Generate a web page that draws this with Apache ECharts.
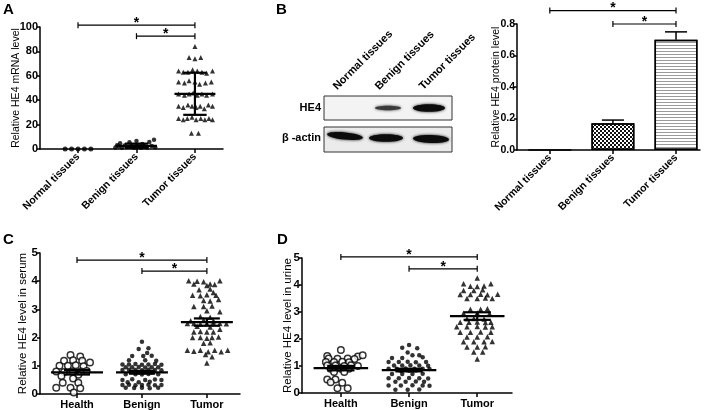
<!DOCTYPE html>
<html><head><meta charset="utf-8">
<script src="https://cdn.jsdelivr.net/npm/echarts@6/dist/echarts.min.js"></script>
<style>html,body{margin:0;padding:0;background:#fff}#c{width:708px;height:410px}</style>
</head><body><div id="c"></div>
<script>
// ---------- DATA ----------
const tissueCats = ['Normal tissues', 'Benign tissues', 'Tumor tissues'];
const groupCats = ['Health', 'Benign', 'Tumor'];

// Panel A: relative HE4 mRNA level, points as [jitter, value]
const aNormalPts = [[-0.22,0],[-0.11,0],[0,0],[0.11,0],[0.22,0]];
const aBenignPts = [[-0.36,1.2],[-0.3,2.2],[-0.25,1],[-0.2,2.8],[-0.16,1.6],[-0.12,5.5],[-0.08,2.4],[-0.04,1],[0,6.5],[0.02,3],[0.06,1.8],[0.1,4.2],[0.14,2.2],[0.18,1.2],[0.22,5.8],[0.26,2.5],[0.3,7.5],[0.32,1.5],[-0.28,4.8],[-0.02,2],[0.08,1],[-0.33,3]];
const aTumorPts = [
  [0,84],
  [-0.1,75],[0,74],[0.1,75],
  [-0.28,64],[-0.2,63],[-0.12,63],[-0.04,65],[0.04,64],[0.12,63],[0.2,62],[0.3,64],
  [-0.28,55],[-0.18,54],[-0.1,56],[0,55],[0.08,53],[0.18,54],[0.28,55],
  [-0.28,45],[-0.18,44],[-0.1,45],[-0.03,46],[0.04,44],[0.12,45],[0.2,44],[0.3,45],
  [-0.28,35],[-0.2,34],[-0.12,36],[-0.05,35],[0.02,34],[0.09,35],[0.16,33],[0.23,36],[0.3,35],
  [-0.28,25],[-0.2,24],[-0.13,25],[-0.05,26],[0.02,24],[0.1,25],[0.17,24],[0.24,25],[0.3,24],
  [-0.06,13],[0.06,13]
];
const aMean = [0, 2.6, 45.2];
const aLow  = [0, 1.0, 28.0];
const aHigh = [0, 4.4, 62.5];
const aBrackets = [[0, 2, 101.5], [1, 2, 92.5]];

// Panel B: relative HE4 protein level
const bMean = [0, 0.17, 0.70];
const bErr  = [0, 0.02, 0.05];
const bBrackets = [[0, 2, 0.885], [1, 2, 0.80]];

// Panel C: serum
const cHealthPts = [[-0.1,1.38],[0.05,1.33],[-0.2,1.18],[-0.06,1.2],[0.08,1.18],[0.2,1.12],[-0.27,1.0],[-0.14,1.0],[-0.02,1.02],[0.1,0.98],[-0.32,0.8],[-0.2,0.78],[-0.07,0.8],[0.06,0.8],[0.15,0.82],[-0.24,0.64],[0.02,0.68],[-0.06,0.55],[-0.22,0.4],[0.02,0.4],[-0.32,0.22],[-0.1,0.22],[0.05,0.2],[-0.05,0.05]];
const cBenignPts = [
  [0,1.85],[-0.05,1.6],[0.1,1.62],[0.08,1.45],
  [-0.15,1.35],[0.02,1.35],[0.15,1.36],[-0.2,1.2],[0.05,1.2],[0.22,1.18],
  [-0.3,1.05],[-0.2,1.05],[-0.1,1.06],[0,1.04],[0.1,1.05],[0.2,1.06],[0.3,1.04],
  [-0.25,0.95],[-0.15,0.95],[-0.05,0.96],[0.05,0.94],[0.15,0.95],[0.25,0.95],
  [-0.3,0.85],[-0.2,0.86],[-0.1,0.85],[0,0.84],[0.1,0.86],[0.2,0.85],[0.3,0.84],
  [-0.15,0.78],[-0.05,0.77],[0.05,0.78],[0.15,0.77],
  [-0.25,0.7],[-0.1,0.7],[0,0.69],[0.1,0.71],[0.25,0.7],
  [-0.3,0.5],[-0.15,0.52],[0.05,0.5],[0.2,0.51],[0.3,0.5],
  [-0.22,0.42],[-0.05,0.42],[0.12,0.43],
  [-0.3,0.32],[-0.2,0.33],[-0.1,0.31],[0,0.32],[0.1,0.33],[0.2,0.31],[0.3,0.32],
  [-0.25,0.22],[-0.12,0.21],[0,0.22],[0.12,0.2],[0.25,0.22]
];
const cTumorPts = [
  [-0.28,4.02],[-0.15,4.0],[-0.05,3.98],[0.2,4.02],[0.05,3.9],
  [-0.2,3.9],[0.0,3.85],[0.12,3.88],
  [-0.12,3.7],[0.05,3.72],[0.1,3.6],
  [-0.22,3.5],[-0.1,3.48],[0,3.52],[0.14,3.5],
  [-0.05,3.32],[0.05,3.3],[0.18,3.35],
  [-0.2,3.1],[-0.05,3.1],[0.08,3.12],
  [0,2.95],[0.2,2.92],
  [-0.1,2.75],[0.05,2.72],
  [-0.25,2.6],[-0.05,2.62],[0.1,2.6],
  [-0.3,2.5],[-0.2,2.5],[-0.1,2.48],[0,2.5],[0.1,2.52],[0.2,2.5],[0.3,2.49],
  [-0.15,2.4],[0.05,2.38],
  [-0.2,2.2],[-0.1,2.22],[0,2.2],[0.1,2.2],[0.2,2.3],
  [-0.22,2.0],[-0.1,2.0],[0,1.98],[0.08,2.0],[0.18,2.02],
  [-0.05,1.8],[0.05,1.82],
  [-0.3,1.55],[-0.2,1.52],[-0.1,1.55],[0.02,1.5],[0.12,1.55],[0.22,1.5],[0.32,1.55],
  [-0.02,1.4],[0.08,1.32],[0,1.1]
];
const cMean = [0.77, 0.77, 2.55];
const cSem  = [0.08, 0.05, 0.13];
const cBrackets = [[0, 2, 4.75], [1, 2, 4.36]];

// Panel D: urine
const dHealthPts = [[0,1.59],[-0.2,1.37],[0.25,1.35],[0.32,1.4],[-0.18,1.28],[-0.05,1.27],[0.1,1.28],[0.2,1.26],[-0.22,1.15],[-0.1,1.15],[0.02,1.16],[0.12,1.14],[-0.2,1.02],[-0.08,1.02],[0.05,1.0],[0.15,1.03],[0.25,1.0],[-0.15,0.9],[0,0.9],[0.12,0.9],[-0.1,0.78],[0.05,0.78],[-0.2,0.5],[-0.08,0.5],[-0.15,0.4],[0.02,0.38],[-0.05,0.18],[0.1,0.18]];
const dBenignPts = [
  [0,1.78],[-0.1,1.68],[0.12,1.66],[-0.02,1.5],[0.05,1.4],[0.15,1.4],
  [-0.25,1.3],[-0.1,1.3],[0.2,1.32],
  [-0.3,1.15],[-0.15,1.15],[-0.02,1.16],[0.1,1.14],[0.25,1.15],
  [-0.22,1.02],[-0.1,1.02],[0.02,1.03],[0.15,1.02],[0.28,1.01],
  [-0.3,0.9],[-0.18,0.9],[-0.05,0.91],[0.08,0.9],[0.2,0.9],[0.3,0.89],
  [-0.12,0.82],[0,0.82],[0.1,0.83],
  [-0.25,0.7],[-0.1,0.7],[0.05,0.7],[0.2,0.71],
  [-0.3,0.55],[-0.15,0.55],[0,0.56],[0.15,0.55],[0.28,0.54],
  [-0.2,0.42],[-0.05,0.42],[0.1,0.43],[0.22,0.42],
  [-0.3,0.28],[-0.12,0.28],[0.05,0.29],[0.2,0.28],[0.3,0.27],
  [-0.2,0.12],[-0.02,0.12],[0.15,0.13]
];
const dTumorPts = [
  [0,4.26],[-0.2,4.05],[0.2,4.05],[-0.1,3.95],[0,3.94],[0.1,3.96],
  [-0.2,3.8],[-0.05,3.8],[0.08,3.82],
  [-0.25,3.65],[-0.1,3.65],[0.05,3.66],[0.15,3.64],[0.3,3.66],
  [-0.15,3.5],[0,3.5],[0.12,3.52],[0.22,3.5],
  [-0.1,3.1],[0.05,3.1],[0.15,3.12],
  [-0.2,2.95],[0,2.96],[0.18,2.94],
  [-0.15,2.75],[-0.05,2.76],[0.1,2.74],
  [-0.25,2.62],[-0.12,2.62],[0,2.63],[0.12,2.61],[0.2,2.62],
  [-0.3,2.45],[-0.15,2.45],[0,2.46],[0.12,2.44],[0.22,2.45],
  [-0.25,2.25],[-0.1,2.25],[0.05,2.26],[0.2,2.25],
  [-0.15,2.07],[0,2.07],[0.15,2.08],
  [-0.2,1.9],[-0.05,1.9],[0.1,1.9],[0.22,1.91],
  [-0.15,1.7],[0,1.7],[0.12,1.71],
  [-0.05,1.52],[0.08,1.52],[0,1.26]
];
const dMean = [0.92, 0.85, 2.85];
const dSem  = [0.08, 0.05, 0.14];
const dBrackets = [[0, 2, 5.04], [1, 2, 4.6]];

// ---------- CHART ----------
const FONT = '"Liberation Sans", Arial, sans-serif';
const chart = echarts.init(document.getElementById('c'));

function xAxisDef(gi, min, max, cats, label) {
  return {
    type: 'value', gridIndex: gi, min: min, max: max, splitLine: {show: false},
    axisLine: {show: true, onZero: false, lineStyle: {color: '#000', width: 1.5}},
    axisTick: {show: true, customValues: [0, 1, 2], length: 4, lineStyle: {color: '#000', width: 1.5}},
    axisLabel: Object.assign({customValues: [0, 1, 2], formatter: v => cats[Math.round(v)], color: '#000', fontFamily: FONT}, label)
  };
}
function yAxisDef(gi, max, interval, name, nameGap, nameSize, label) {
  return {
    type: 'value', gridIndex: gi, min: 0, max: max, interval: interval, splitLine: {show: false},
    name: name, nameLocation: 'middle', nameGap: nameGap, nameMoveOverlap: false,
    nameTextStyle: {color: '#000', fontFamily: FONT, fontSize: nameSize},
    axisLine: {show: true, onZero: false, lineStyle: {color: '#000', width: 1.5}},
    axisTick: {show: true, length: 3, lineStyle: {color: '#000', width: 1.5}},
    axisLabel: Object.assign({color: '#000', fontFamily: FONT, margin: 2}, label)
  };
}
function scatterSeries(idx, pts, cat, symbol, size, filled) {
  return {
    type: 'scatter', xAxisIndex: idx, yAxisIndex: idx, symbol: symbol, symbolSize: size, z: 3,
    data: pts.map(p => [cat + p[0], p[1]]),
    itemStyle: filled ? {color: '#000'} : {color: '#fff', borderColor: '#000', borderWidth: 1.5},
    silent: true
  };
}
function summarySeries(idx, items, hw, cw) {
  return {
    type: 'custom', xAxisIndex: idx, yAxisIndex: idx, z: 5, clip: false, silent: true,
    data: items,
    renderItem: function (params, api) {
      const c = api.value(0), m = api.value(1), lo = api.value(2), hi = api.value(3);
      const st = {stroke: '#000', lineWidth: 2.2};
      const P = (x, y) => api.coord([x, y]);
      const L = (a, b) => ({type: 'line', shape: {x1: a[0], y1: a[1], x2: b[0], y2: b[1]}, style: st});
      return {type: 'group', children: [
        L(P(c - hw, m), P(c + hw, m)),
        L(P(c, lo), P(c, hi)),
        L(P(c - cw, lo), P(c + cw, lo)),
        L(P(c - cw, hi), P(c + cw, hi))
      ]};
    }
  };
}
function bracketSeries(idx, items) {
  return {
    type: 'custom', xAxisIndex: idx, yAxisIndex: idx, z: 6, clip: false, silent: true,
    data: items,
    renderItem: function (params, api) {
      const a = api.coord([api.value(0), api.value(2)]);
      const b = api.coord([api.value(1), api.value(2)]);
      const st = {stroke: '#000', lineWidth: 1.2};
      return {type: 'group', children: [
        {type: 'line', shape: {x1: a[0], y1: a[1], x2: b[0], y2: b[1]}, style: st},
        {type: 'line', shape: {x1: a[0], y1: a[1] - 3, x2: a[0], y2: a[1] + 3}, style: st},
        {type: 'line', shape: {x1: b[0], y1: b[1] - 3, x2: b[0], y2: b[1] + 3}, style: st},
        {type: 'text', style: {text: '*', x: (a[0] + b[0]) / 2, y: a[1] - 2, textAlign: 'center', textVerticalAlign: 'middle', font: 'bold 14px ' + FONT, fill: '#000'}}
      ]};
    }
  };
}
function barErrSeries(idx, items, cw) {
  return {
    type: 'custom', xAxisIndex: idx, yAxisIndex: idx, z: 5, clip: false, silent: true,
    data: items,
    renderItem: function (params, api) {
      const c = api.value(0), m = api.value(1), hi = api.value(2);
      const st = {stroke: '#000', lineWidth: 1.5};
      const a = api.coord([c, m]), b = api.coord([c, hi]);
      const l = api.coord([c - cw, hi]), r = api.coord([c + cw, hi]);
      return {type: 'group', children: [
        {type: 'line', shape: {x1: a[0], y1: a[1], x2: b[0], y2: b[1]}, style: st},
        {type: 'line', shape: {x1: l[0], y1: l[1], x2: r[0], y2: r[1]}, style: st}
      ]};
    }
  };
}

const rotLabel = {rotate: 45, fontSize: 10.5, fontWeight: 'bold', margin: 6};
const tickLblA = {fontSize: 11, fontWeight: 'bold'};
const tickLblB = {fontSize: 10.5, fontWeight: 'bold'};
const tickLblBig = {fontSize: 11.5, fontWeight: 'bold'};
const catLblBig = {fontSize: 11, fontWeight: 'bold', margin: 5};

const barStyles = [
  {color: '#fff', borderColor: '#000', borderWidth: 1.5},
  {color: '#fff', borderColor: '#000', borderWidth: 1.5,
   decal: {symbol: 'rect', symbolSize: 1, color: '#111', dashArrayX: [[2, 2], [0, 2, 2, 0]], dashArrayY: [2, 0], rotation: 0}},
  {color: '#fff', borderColor: '#000', borderWidth: 1.5,
   decal: {symbol: 'rect', symbolSize: 1, color: '#9a9a9a', dashArrayX: [1, 0], dashArrayY: [1, 2], rotation: 0}}
];

const wbBands = [
  {cx: 388, cy: 108, rx: 13, ry: 2.2, fill: '#3a3a3a', rot: 0},
  {cx: 429, cy: 108, rx: 16, ry: 3.8, fill: '#0c0c0c', rot: 0},
  {cx: 345, cy: 136, rx: 18, ry: 3.6, fill: '#0c0c0c', rot: -0.1},
  {cx: 386, cy: 138, rx: 17, ry: 3.8, fill: '#0c0c0c', rot: 0},
  {cx: 431, cy: 139, rx: 18, ry: 4, fill: '#0c0c0c', rot: -0.03}
];

const graphics = [
  {type: 'text', x: 3, y: 2, style: {text: 'A', font: 'bold 15px ' + FONT, fill: '#000'}},
  {type: 'text', x: 276, y: 2, style: {text: 'B', font: 'bold 15px ' + FONT, fill: '#000'}},
  {type: 'text', x: 3, y: 232, style: {text: 'C', font: 'bold 15px ' + FONT, fill: '#000'}},
  {type: 'text', x: 277, y: 232, style: {text: 'D', font: 'bold 15px ' + FONT, fill: '#000'}},
  {type: 'rect', shape: {x: 324, y: 96, width: 128, height: 24}, style: {fill: '#f3f3f3', stroke: '#333', lineWidth: 1}},
  {type: 'rect', shape: {x: 324, y: 127, width: 128, height: 25}, style: {fill: '#ebebeb', stroke: '#333', lineWidth: 1}},
  {type: 'text', x: 321, y: 108, style: {text: 'HE4', font: 'bold 11px ' + FONT, fill: '#000', textAlign: 'right', textVerticalAlign: 'middle'}},
  {type: 'text', x: 321, y: 138, style: {text: 'β -actin', font: 'bold 11px ' + FONT, fill: '#000', textAlign: 'right', textVerticalAlign: 'middle'}}
];
[[339, 92], [381, 92], [425, 92]].forEach((p, i) => {
  graphics.push({type: 'text', x: p[0], y: p[1], rotation: Math.PI / 4,
    style: {text: tissueCats[i], font: 'bold 11px ' + FONT, fill: '#000', textAlign: 'left', textVerticalAlign: 'bottom'}});
});
wbBands.forEach(b => {
  graphics.push({type: 'ellipse', x: b.cx, y: b.cy, rotation: b.rot, shape: {cx: 0, cy: 0, rx: b.rx, ry: b.ry},
    style: {fill: b.fill, shadowBlur: 3, shadowColor: b.fill}});
});

const option = {
  animation: false,
  backgroundColor: '#fff',
  grid: [
    {left: 40, top: 27, width: 183, height: 122},
    {left: 517, top: 24, width: 183, height: 126},
    {left: 40, top: 253, width: 200, height: 141},
    {left: 302, top: 258, width: 210, height: 135}
  ],
  xAxis: [
    xAxisDef(0, -0.65, 2.48, tissueCats, rotLabel),
    xAxisDef(1, -0.52, 2.38, tissueCats, rotLabel),
    xAxisDef(2, -0.57, 2.51, groupCats, catLblBig),
    xAxisDef(3, -0.57, 2.51, groupCats, catLblBig)
  ],
  yAxis: [
    yAxisDef(0, 100, 20, 'Relative HE4 mRNA level', 18, 10.5, tickLblA),
    yAxisDef(1, 0.8, 0.2, 'Relative HE4 protein level', 15, 10.5, Object.assign({formatter: v => v.toFixed(1)}, tickLblB)),
    yAxisDef(2, 5, 1, 'Relative HE4 level in serum', 11, 11.5, tickLblBig),
    yAxisDef(3, 5, 1, 'Relative HE4 level in urine', 8, 11.5, tickLblBig)
  ],
  graphic: graphics,
  series: [
    scatterSeries(0, aNormalPts, 0, 'circle', 5, true),
    scatterSeries(0, aBenignPts, 1, 'circle', 4.5, true),
    scatterSeries(0, aTumorPts, 2, 'triangle', 5, true),
    summarySeries(0, [1, 2].map(i => [i, aMean[i], aLow[i], aHigh[i]]), 0.35, 0.2),
    bracketSeries(0, aBrackets),

    {type: 'bar', xAxisIndex: 1, yAxisIndex: 1, barWidth: 43, silent: true,
     data: bMean.map((v, i) => ({value: [i, v], itemStyle: barStyles[i]}))},
    barErrSeries(1, [1, 2].map(i => [i, bMean[i], bMean[i] + bErr[i]]), 0.175),
    bracketSeries(1, bBrackets),

    scatterSeries(2, cHealthPts, 0, 'circle', 6.5, false),
    scatterSeries(2, cBenignPts, 1, 'circle', 4.5, true),
    scatterSeries(2, cTumorPts, 2, 'triangle', 5.5, true),
    summarySeries(2, [0, 1, 2].map(i => [i, cMean[i], cMean[i] - cSem[i], cMean[i] + cSem[i]]), 0.4, 0.2),
    bracketSeries(2, cBrackets),

    scatterSeries(3, dHealthPts, 0, 'circle', 6.5, false),
    scatterSeries(3, dBenignPts, 1, 'circle', 4.5, true),
    scatterSeries(3, dTumorPts, 2, 'triangle', 5.5, true),
    summarySeries(3, [0, 1, 2].map(i => [i, dMean[i], dMean[i] - dSem[i], dMean[i] + dSem[i]]), 0.4, 0.2),
    bracketSeries(3, dBrackets)
  ]
};
chart.setOption(option);
</script>
</body></html>
